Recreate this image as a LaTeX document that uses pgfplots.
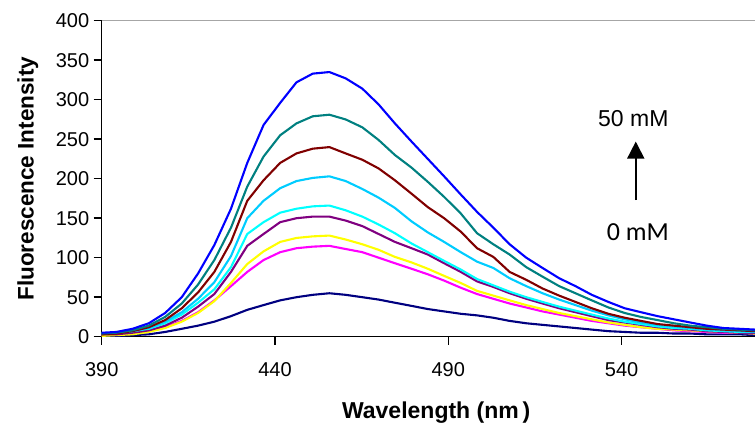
\documentclass[border=0pt]{standalone}
\usepackage{fontspec}
\setmainfont{Liberation Sans}
\newfontfamily\calibri{Carlito}
\usepackage{pgfplots}
\pgfplotsset{compat=1.18}
\usepackage{pgfplotstable}
\usetikzlibrary{arrows.meta}

\definecolor{cNavy}{RGB}{0,0,128}
\definecolor{cMag}{RGB}{255,0,255}
\definecolor{cYel}{RGB}{255,255,0}
\definecolor{cPur}{RGB}{128,0,128}
\definecolor{cCya}{RGB}{0,255,255}
\definecolor{cSky}{RGB}{0,204,255}
\definecolor{cRed}{RGB}{128,0,0}
\definecolor{cTeal}{RGB}{0,128,128}
\definecolor{cBlue}{RGB}{0,0,255}

% wavelength, then one column per concentration (0 mM ... 50 mM)
\pgfplotstableread{
x     N  M   Y   P   C   S   R   T   B
390.0 1  2   1   3   4   4   3   4   5
394.2 1  3   2   3   5   5   4   5   6
398.9 2  4   3   5   7   7   7   8   10
403.6 3  7   6   8   10  11  12  14  17
408.3 6  12  11  14  17  19  21  25  30
413.1 10 20  19  24  28  31  36  42  50
417.8 14 31  30  38  43  48  56  66  80
422.5 19 46  45  54  60  69  82  97  116
427.3 26 64  68  82  88  102 120 138 162
432.0 34 82  92  115 130 150 172 190 220
436.7 40 97  108 130 145 172 198 228 268
441.5 46 107 120 145 157 188 220 255 296
446.2 50 112 125 150 162 197 232 270 322
450.9 53 114 127 152 165 201 238 279 333
455.7 55 115 128 152 166 203 240 281 335
460.4 53 111 123 147 160 197 232 275 327
465.2 50 107 117 140 152 187 224 265 314
469.9 47 100 110 130 142 176 213 249 294
474.6 43 93  101 120 131 163 198 230 270
479.4 39 86  94  112 118 146 181 214 247
484.1 35 79  86  104 107 132 164 196 225
488.8 32 71  77  93  96  120 150 177 203
493.6 29 62  68  82  85  107 133 156 180
498.3 27 54  58  70  73  95  112 131 158
503.0 24 48  52  63  65  87  101 117 138
507.7 20 42  46  55  57  74  82  104 117
512.5 17 37  40  48  50  64  72  88  100
517.2 15 32  35  42  44  55  61  76  87
522.0 13 28  30  36  38  47  52  64  74
526.7 11 24  26  31  33  40  44  55  64
531.4 9  20  22  26  28  33  36  46  53
536.2 7  17  18  21  23  27  29  37  44
540.9 6  14  15  18  19  22  24  30  36
545.6 5  12  12  15  16  18  20  25  31
550.4 5  10  10  12  13  15  16  21  26
555.1 4  8   9   10  11  13  14  17  22
559.8 4  7   8   9   10  11  12  14  18
564.6 3  6   7   7   8   9   10  12  14
569.3 3  5   6   6   7   8   9   10  11
574.0 3  5   5   5   6   7   8   9   10
578.5 2  4   4   5   6   6   7   8   9
}\spectra

\begin{document}
\begin{tikzpicture}
\begin{axis}[
    at={(0,0)}, anchor=south west,
    width=653.3pt, height=316pt, scale only axis,
    xmin=390, xmax=578.5, ymin=0, ymax=400,
    xtick={390,440,490,540},
    ytick={0,50,...,400},
    axis lines*=left,
    axis line style={black, line width=1.3pt},
    tick style={black, line width=1.4pt},
    tick align=outside,
    major tick length=8pt,
    ticklabel style={font=\fontsize{20}{24}\selectfont},
    /pgf/number format/assume math mode=true,
    /pgf/number format/1000 sep={},
    xticklabel style={yshift=-14pt},
    yticklabel style={xshift=-1pt},
    xlabel={Wavelength (nm\,)},
    ylabel={Fluorescence Intensity},
    label style={font=\bfseries\fontsize{22.5}{26}\selectfont},
    xlabel style={font=\bfseries\fontsize{23}{27}\selectfont,
        at={(axis description cs:0.512,-0.24)}, anchor=center},
    ylabel style={at={(axis description cs:-0.113,0.5)}, anchor=center},
    every axis plot/.append style={line width=2.1pt, no markers, line join=round},
]
\draw[gray!70, line width=1pt] (rel axis cs:0,1) -- (rel axis cs:1,1);
\addplot[cNavy] table[x=x, y=N] {\spectra};
\addplot[cMag]  table[x=x, y=M] {\spectra};
\addplot[cYel]  table[x=x, y=Y] {\spectra};
\addplot[cPur]  table[x=x, y=P] {\spectra};
\addplot[cCya]  table[x=x, y=C] {\spectra};
\addplot[cSky]  table[x=x, y=S] {\spectra};
\addplot[cRed]  table[x=x, y=R] {\spectra};
\addplot[cTeal] table[x=x, y=T] {\spectra};
\addplot[cBlue] table[x=x, y=B] {\spectra};
\draw[black, line width=1.8pt, -{Triangle[length=17pt, width=17pt]}]
    (axis cs:544.1,173) -- (axis cs:544.1,247);
\node[font=\fontsize{23}{27}\selectfont] at (axis cs:543.4,275.6) {50 mM};
\node[font=\calibri\fontsize{26}{30}\selectfont] at (axis cs:544.7,132) {0 mM};
\end{axis}
\pgfresetboundingbox
\path (-101.7pt,-91.3pt) rectangle (653.3pt,336.7pt);
\end{tikzpicture}
\end{document}
